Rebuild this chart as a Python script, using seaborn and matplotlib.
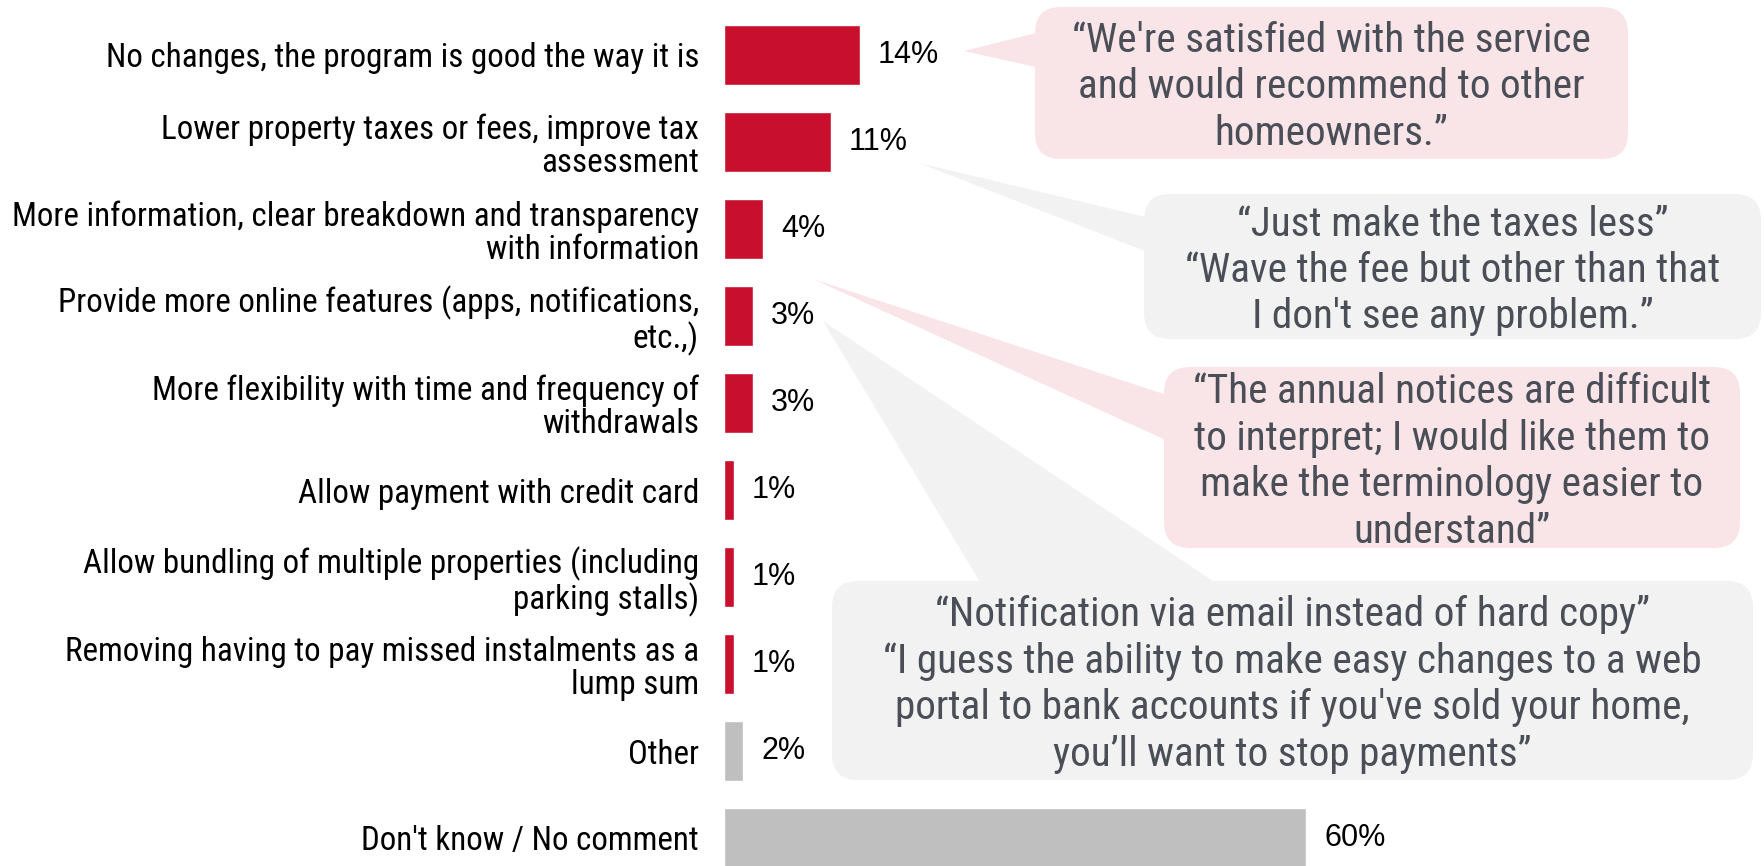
import matplotlib
matplotlib.use("Agg")
import matplotlib.pyplot as plt
from matplotlib.patches import FancyBboxPatch, Polygon
import seaborn as sns
import pandas as pd

# ---- data -------------------------------------------------------------
categories = [
    "No changes, the program is good the way it is",
    "Lower property taxes or fees, improve tax\nassessment",
    "More information, clear breakdown and transparency\nwith information",
    "Provide more online features (apps, notifications,\netc.,)",
    "More flexibility with time and frequency of\nwithdrawals",
    "Allow payment with credit card",
    "Allow bundling of multiple properties (including\nparking stalls)",
    "Removing having to pay missed instalments as a\nlump sum",
    "Other",
    "Don't know / No comment",
]
values = [14, 11, 4, 3, 3, 1, 1, 1, 2, 60]
groups = ["suggestion"] * 8 + ["other"] * 2

quotes = [
    "\u201cWe're satisfied with the service\nand would recommend to other\nhomeowners.\u201d",
    "\u201cJust make the taxes less\u201d\n\u201cWave the fee but other than that\nI don't see any problem.\u201d",
    "\u201cThe annual notices are difficult\nto interpret; I would like them to\nmake the terminology easier to\nunderstand\u201d",
    "\u201cNotification via email instead of hard copy\u201d\n\u201cI guess the ability to make easy changes to a web\nportal to bank accounts if you've sold your home,\nyou\u2019ll want to stop payments\u201d",
]

# ---- style ------------------------------------------------------------
RED = "#C8102E"
GREY_BAR = "#BFBFBF"
PINK_BOX = "#F9E5E8"
GREY_BOX = "#F2F2F2"
QUOTE_TXT = "#4A4E57"
NARROW = ["Liberation Sans Narrow", "Roboto Condensed", "Roboto", "DejaVu Sans"]
REGULAR = ["Liberation Sans", "DejaVu Sans"]

sns.set_theme(style="white")
plt.rcParams["font.family"] = REGULAR

W, H = 1764, 866
fig = plt.figure(figsize=(W / 100, H / 100), dpi=100)

# ---- bar chart --------------------------------------------------------
px_per_unit = 9.7
bar_left = 724
ax = fig.add_axes([bar_left / W, 0, (W - bar_left) / W, 1])
df = pd.DataFrame({"category": categories, "value": values, "group": groups})
sns.barplot(data=df, x="value", y="category", hue="group",
            palette={"suggestion": RED, "other": GREY_BAR},
            dodge=False, width=0.70, legend=False, ax=ax, saturation=1)

ax.set_xlim(0, (W - bar_left) / px_per_unit)
ax.set_ylim(9 + 28 / 87, -55 / 87)
ax.set_xlabel("")
ax.set_ylabel("")
ax.set_xticks([])
sns.despine(ax=ax, left=True, bottom=True)
ax.tick_params(axis="y", length=0, pad=18)
for lab in ax.get_yticklabels():
    lab.set_fontfamily(NARROW)
    lab.set_fontsize(23.8)
    lab.set_color("black")
    lab.set_multialignment("right")
    lab.set_linespacing(1.06)

for i, v in enumerate(values):
    ax.text(v + 18 / px_per_unit, i, f"{v}%", va="center", ha="left",
            fontsize=22, color="black", family=REGULAR)

# ---- callouts (figure pixel coordinates) ------------------------------
ov = fig.add_axes([0, 0, 1, 1], facecolor="none")
ov.set_xlim(0, W)
ov.set_ylim(H, 0)
ov.axis("off")

boxes = [
    # (x0, y0, x1, y1), colour, tail polygon
    ((1035, 7, 1628, 159), PINK_BOX, [(964, 51), (1040, 32), (1040, 68)]),
    ((1144, 194, 1761, 339), GREY_BOX, [(919, 163), (1150, 218), (1150, 253)]),
    ((1164, 367, 1740, 548), PINK_BOX, [(813, 279), (1170, 396), (1170, 442)]),
    ((832, 581, 1753, 780), GREY_BOX, [(823, 321), (983, 587), (1222, 587)]),
]
for (x0, y0, x1, y1), col, tail in boxes:
    ov.add_patch(Polygon(tail, closed=True, facecolor=col, edgecolor="none", zorder=1))
    ov.add_patch(FancyBboxPatch((x0, y0), x1 - x0, y1 - y0,
                                boxstyle="round,pad=0,rounding_size=26",
                                facecolor=col, edgecolor="none", zorder=2))

for ((x0, y0, x1, y1), col, tail), q in zip(boxes, quotes):
    ov.text((x0 + x1) / 2, (y0 + y1) / 2 + 4, q, ha="center", va="center",
            multialignment="center", fontsize=29.7, color=QUOTE_TXT,
            family=NARROW, linespacing=1.24, zorder=3)

fig.savefig("out.png", dpi=100)
